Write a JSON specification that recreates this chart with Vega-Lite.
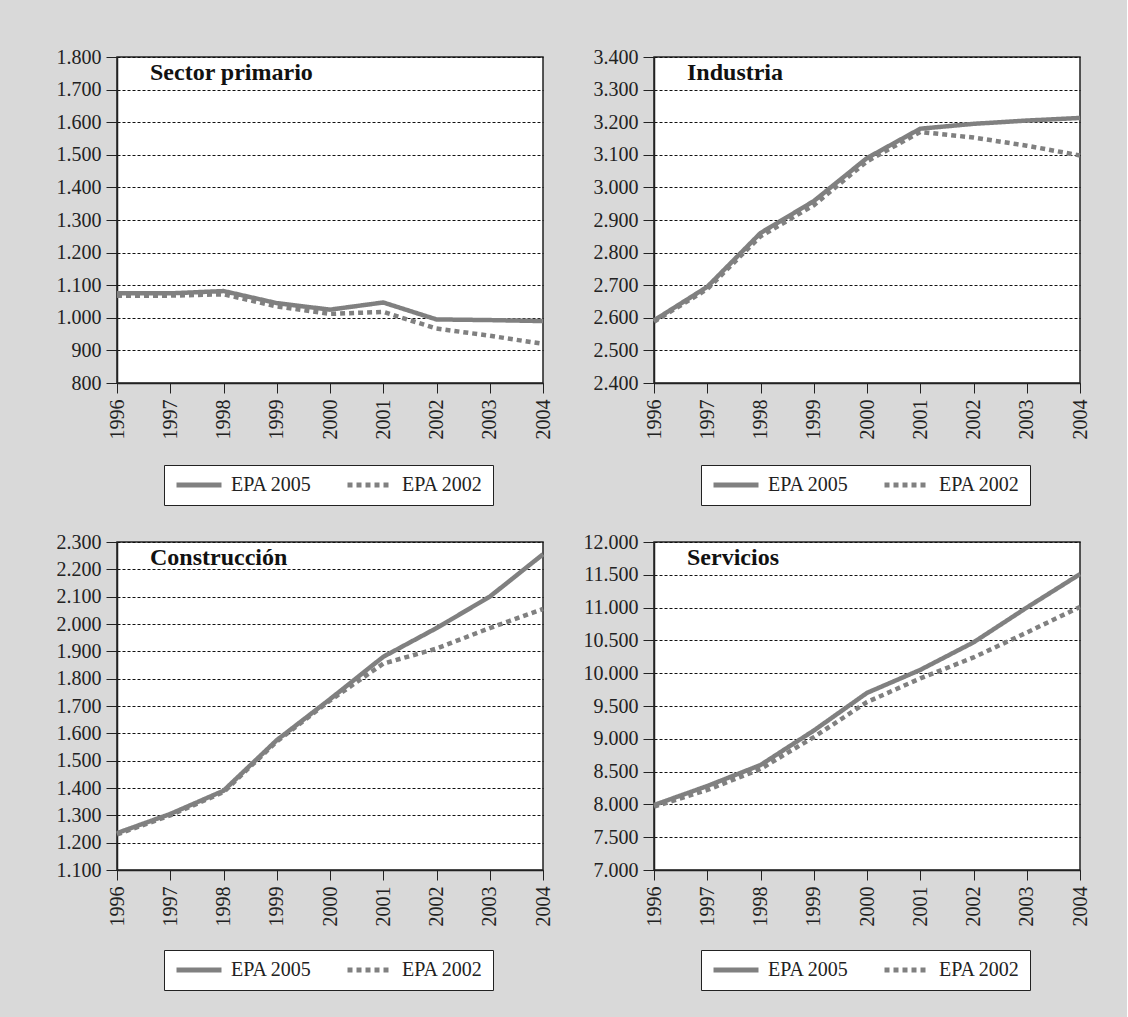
{
  "$schema": "https://vega.github.io/schema/vega-lite/v6.json",
  "background": "#d9d9d9",
  "padding": {"left": 55, "top": 46, "right": 36, "bottom": 26},
  "datasets": {
    "d": [
      {"sector": "Sector primario", "series": "EPA 2005", "year": "1996", "value": 1075},
      {"sector": "Sector primario", "series": "EPA 2005", "year": "1997", "value": 1075},
      {"sector": "Sector primario", "series": "EPA 2005", "year": "1998", "value": 1082},
      {"sector": "Sector primario", "series": "EPA 2005", "year": "1999", "value": 1045},
      {"sector": "Sector primario", "series": "EPA 2005", "year": "2000", "value": 1025},
      {"sector": "Sector primario", "series": "EPA 2005", "year": "2001", "value": 1047},
      {"sector": "Sector primario", "series": "EPA 2005", "year": "2002", "value": 995},
      {"sector": "Sector primario", "series": "EPA 2005", "year": "2003", "value": 993},
      {"sector": "Sector primario", "series": "EPA 2005", "year": "2004", "value": 990},
      {"sector": "Sector primario", "series": "EPA 2002", "year": "1996", "value": 1068},
      {"sector": "Sector primario", "series": "EPA 2002", "year": "1997", "value": 1068},
      {"sector": "Sector primario", "series": "EPA 2002", "year": "1998", "value": 1072},
      {"sector": "Sector primario", "series": "EPA 2002", "year": "1999", "value": 1035},
      {"sector": "Sector primario", "series": "EPA 2002", "year": "2000", "value": 1012},
      {"sector": "Sector primario", "series": "EPA 2002", "year": "2001", "value": 1018},
      {"sector": "Sector primario", "series": "EPA 2002", "year": "2002", "value": 967},
      {"sector": "Sector primario", "series": "EPA 2002", "year": "2003", "value": 945},
      {"sector": "Sector primario", "series": "EPA 2002", "year": "2004", "value": 920},
      {"sector": "Industria", "series": "EPA 2005", "year": "1996", "value": 2592},
      {"sector": "Industria", "series": "EPA 2005", "year": "1997", "value": 2695},
      {"sector": "Industria", "series": "EPA 2005", "year": "1998", "value": 2860},
      {"sector": "Industria", "series": "EPA 2005", "year": "1999", "value": 2958},
      {"sector": "Industria", "series": "EPA 2005", "year": "2000", "value": 3090},
      {"sector": "Industria", "series": "EPA 2005", "year": "2001", "value": 3180},
      {"sector": "Industria", "series": "EPA 2005", "year": "2002", "value": 3195},
      {"sector": "Industria", "series": "EPA 2005", "year": "2003", "value": 3205},
      {"sector": "Industria", "series": "EPA 2005", "year": "2004", "value": 3213},
      {"sector": "Industria", "series": "EPA 2002", "year": "1996", "value": 2588},
      {"sector": "Industria", "series": "EPA 2002", "year": "1997", "value": 2688},
      {"sector": "Industria", "series": "EPA 2002", "year": "1998", "value": 2850},
      {"sector": "Industria", "series": "EPA 2002", "year": "1999", "value": 2945},
      {"sector": "Industria", "series": "EPA 2002", "year": "2000", "value": 3080},
      {"sector": "Industria", "series": "EPA 2002", "year": "2001", "value": 3170},
      {"sector": "Industria", "series": "EPA 2002", "year": "2002", "value": 3153},
      {"sector": "Industria", "series": "EPA 2002", "year": "2003", "value": 3128},
      {"sector": "Industria", "series": "EPA 2002", "year": "2004", "value": 3098},
      {"sector": "Construcción", "series": "EPA 2005", "year": "1996", "value": 1235},
      {"sector": "Construcción", "series": "EPA 2005", "year": "1997", "value": 1305},
      {"sector": "Construcción", "series": "EPA 2005", "year": "1998", "value": 1390},
      {"sector": "Construcción", "series": "EPA 2005", "year": "1999", "value": 1575},
      {"sector": "Construcción", "series": "EPA 2005", "year": "2000", "value": 1725},
      {"sector": "Construcción", "series": "EPA 2005", "year": "2001", "value": 1880},
      {"sector": "Construcción", "series": "EPA 2005", "year": "2002", "value": 1985},
      {"sector": "Construcción", "series": "EPA 2005", "year": "2003", "value": 2100},
      {"sector": "Construcción", "series": "EPA 2005", "year": "2004", "value": 2255},
      {"sector": "Construcción", "series": "EPA 2002", "year": "1996", "value": 1230},
      {"sector": "Construcción", "series": "EPA 2002", "year": "1997", "value": 1300},
      {"sector": "Construcción", "series": "EPA 2002", "year": "1998", "value": 1385},
      {"sector": "Construcción", "series": "EPA 2002", "year": "1999", "value": 1570},
      {"sector": "Construcción", "series": "EPA 2002", "year": "2000", "value": 1720},
      {"sector": "Construcción", "series": "EPA 2002", "year": "2001", "value": 1855},
      {"sector": "Construcción", "series": "EPA 2002", "year": "2002", "value": 1910},
      {"sector": "Construcción", "series": "EPA 2002", "year": "2003", "value": 1985},
      {"sector": "Construcción", "series": "EPA 2002", "year": "2004", "value": 2055},
      {"sector": "Servicios", "series": "EPA 2005", "year": "1996", "value": 7990},
      {"sector": "Servicios", "series": "EPA 2005", "year": "1997", "value": 8280},
      {"sector": "Servicios", "series": "EPA 2005", "year": "1998", "value": 8600},
      {"sector": "Servicios", "series": "EPA 2005", "year": "1999", "value": 9125},
      {"sector": "Servicios", "series": "EPA 2005", "year": "2000", "value": 9700},
      {"sector": "Servicios", "series": "EPA 2005", "year": "2001", "value": 10050},
      {"sector": "Servicios", "series": "EPA 2005", "year": "2002", "value": 10470},
      {"sector": "Servicios", "series": "EPA 2005", "year": "2003", "value": 11000},
      {"sector": "Servicios", "series": "EPA 2005", "year": "2004", "value": 11510},
      {"sector": "Servicios", "series": "EPA 2002", "year": "1996", "value": 7965},
      {"sector": "Servicios", "series": "EPA 2002", "year": "1997", "value": 8220},
      {"sector": "Servicios", "series": "EPA 2002", "year": "1998", "value": 8540},
      {"sector": "Servicios", "series": "EPA 2002", "year": "1999", "value": 9025},
      {"sector": "Servicios", "series": "EPA 2002", "year": "2000", "value": 9560},
      {"sector": "Servicios", "series": "EPA 2002", "year": "2001", "value": 9920},
      {"sector": "Servicios", "series": "EPA 2002", "year": "2002", "value": 10240},
      {"sector": "Servicios", "series": "EPA 2002", "year": "2003", "value": 10620},
      {"sector": "Servicios", "series": "EPA 2002", "year": "2004", "value": 11010}
    ]
  },
  "columns": 2,
  "spacing": {"column": 28, "row": 24},
  "concat": [
    {
      "width": 426, "height": 326,
      "data": {"name": "d"},
      "transform": [{"filter": "datum.sector === 'Sector primario'"}],
      "title": {"text": "Sector primario"},
      "mark": {"type": "line", "strokeWidth": 4.5, "color": "#808080"},
      "encoding": {
        "x": {"field": "year", "type": "ordinal", "scale": {"type": "point", "padding": 0}},
        "y": {"field": "value", "type": "quantitative", "scale": {"domain": [800, 1800], "nice": false, "zero": false}, "axis": {"tickCount": 10}},
        "strokeDash": {"field": "series", "type": "nominal", "scale": {"domain": ["EPA 2005", "EPA 2002"], "range": [[1, 0], [5, 4]]}}
      }
    },
    {
      "width": 426, "height": 326,
      "data": {"name": "d"},
      "transform": [{"filter": "datum.sector === 'Industria'"}],
      "title": {"text": "Industria"},
      "mark": {"type": "line", "strokeWidth": 4.5, "color": "#808080"},
      "encoding": {
        "x": {"field": "year", "type": "ordinal", "scale": {"type": "point", "padding": 0}},
        "y": {"field": "value", "type": "quantitative", "scale": {"domain": [2400, 3400], "nice": false, "zero": false}, "axis": {"tickCount": 10}},
        "strokeDash": {"field": "series", "type": "nominal", "scale": {"domain": ["EPA 2005", "EPA 2002"], "range": [[1, 0], [5, 4]]}}
      }
    },
    {
      "width": 426, "height": 328,
      "data": {"name": "d"},
      "transform": [{"filter": "datum.sector === 'Construcción'"}],
      "title": {"text": "Construcción"},
      "mark": {"type": "line", "strokeWidth": 4.5, "color": "#808080"},
      "encoding": {
        "x": {"field": "year", "type": "ordinal", "scale": {"type": "point", "padding": 0}},
        "y": {"field": "value", "type": "quantitative", "scale": {"domain": [1100, 2300], "nice": false, "zero": false}, "axis": {"tickCount": 12}},
        "strokeDash": {"field": "series", "type": "nominal", "scale": {"domain": ["EPA 2005", "EPA 2002"], "range": [[1, 0], [5, 4]]}}
      }
    },
    {
      "width": 426, "height": 328,
      "data": {"name": "d"},
      "transform": [{"filter": "datum.sector === 'Servicios'"}],
      "title": {"text": "Servicios"},
      "mark": {"type": "line", "strokeWidth": 4.5, "color": "#808080"},
      "encoding": {
        "x": {"field": "year", "type": "ordinal", "scale": {"type": "point", "padding": 0}},
        "y": {"field": "value", "type": "quantitative", "scale": {"domain": [7000, 12000], "nice": false, "zero": false}, "axis": {"tickCount": 10}},
        "strokeDash": {"field": "series", "type": "nominal", "scale": {"domain": ["EPA 2005", "EPA 2002"], "range": [[1, 0], [5, 4]]}}
      }
    }
  ],
  "resolve": {"scale": {"strokeDash": "independent", "y": "independent", "x": "independent"}, "legend": {"strokeDash": "independent"}},
  "config": {
    "font": "Liberation Serif",
    "locale": {"number": {"decimal": ",", "thousands": ".", "grouping": [3], "currency": ["", " €"]}},
    "view": {"fill": "white", "stroke": "#222", "strokeWidth": 1.5},
    "title": {"anchor": "start", "frame": "group", "orient": "top", "offset": -38, "dx": 33, "fontSize": 24, "fontWeight": "bold", "color": "#111", "baseline": "alphabetic", "font": "Liberation Serif"},
    "axisY": {"title": null, "format": ",d", "labelFont": "Liberation Serif", "labelFontSize": 20, "labelColor": "#222", "tickColor": "#222", "tickSize": 11, "labelPadding": 5, "domainColor": "#222", "domainWidth": 1.5, "grid": true, "gridColor": "#111", "gridDash": [3, 2], "gridWidth": 1, "gridOpacity": 1},
    "axisX": {"title": null, "labelAngle": -90, "labelFont": "Liberation Serif", "labelFontSize": 20, "labelColor": "#222", "tickColor": "#222", "tickSize": 10, "labelPadding": 6, "domainColor": "#222", "domainWidth": 1.5, "grid": false},
    "legend": {"orient": "none", "legendX": 47, "legendY": 408, "direction": "horizontal", "title": null, "strokeColor": "#222", "fillColor": "white", "padding": 10, "symbolType": "M-1,0H5", "symbolSize": 225, "symbolStrokeWidth": 5, "symbolStrokeColor": "#808080", "symbolFillColor": "transparent", "labelFont": "Liberation Serif", "labelFontSize": 20, "labelColor": "#222", "labelOffset": 37, "columnPadding": 25}
  }
}
